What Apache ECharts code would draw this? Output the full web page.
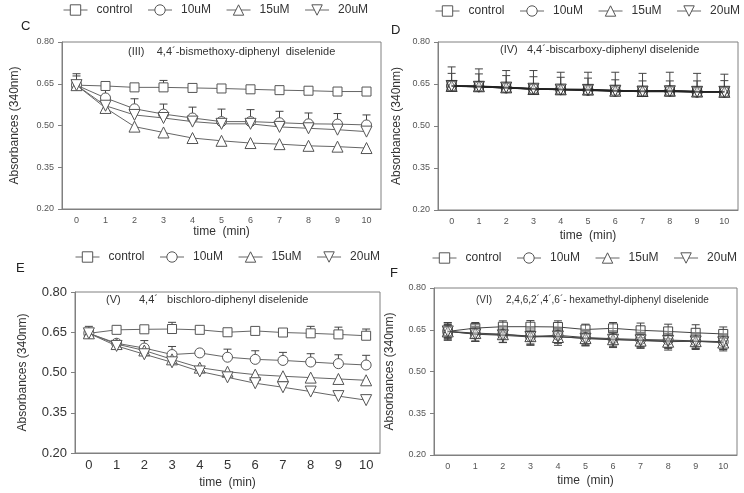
<!DOCTYPE html>
<html><head><meta charset="utf-8">
<script src="https://cdn.jsdelivr.net/npm/echarts@6/dist/echarts.min.js"></script>
<style>html,body{margin:0;padding:0;background:#fff}#chart{width:744px;height:493px}</style>
</head><body><div id="chart"></div>
<script>
const timeLabels = ['0','1','2','3','4','5','6','7','8','9','10'];
const yTickValues = [0.20, 0.35, 0.50, 0.65, 0.80];
const seriesNames = ['control', '10uM', '15uM', '20uM'];
const panelLetters = ['C', 'D', 'E', 'F'];
const panelTitles = [
  '(III)    4,4´-bismethoxy-diphenyl  diselenide',
  '(IV)   4,4´-biscarboxy-diphenyl diselenide',
  '(V)      4,4´   bischloro-diphenyl diselenide',
  '(VI)     2,4,6,2´,4´,6´- hexamethyl-diphenyl diselenide'
];
const yAxisTitle = 'Absorbances (340nm)';
const xAxisTitle = 'time  (min)';

// Panel C
const cControl = [0.645,0.642,0.637,0.637,0.635,0.633,0.630,0.627,0.625,0.622,0.622];
const c10uM    = [0.645,0.599,0.560,0.541,0.527,0.514,0.514,0.510,0.506,0.505,0.502];
const c15uM    = [0.645,0.563,0.496,0.475,0.455,0.445,0.437,0.433,0.427,0.424,0.419];
const c20uM    = [0.645,0.571,0.538,0.527,0.514,0.506,0.506,0.495,0.490,0.485,0.478];
const cControlErr = [0.033,0.006,0.004,0.025,0.004,0.004,0.004,0.004,0.004,0.004,0.004];
const c10uMErr    = [0.041,0.039,0.036,0.036,0.039,0.045,0.043,0.041,0.039,0.038,0.036];

// Panel D
const dControl = [0.643,0.641,0.637,0.632,0.630,0.629,0.627,0.624,0.624,0.622,0.622];
const d10uM    = [0.643,0.641,0.636,0.633,0.630,0.628,0.624,0.624,0.625,0.621,0.621];
const d15uM    = [0.643,0.642,0.638,0.632,0.631,0.630,0.626,0.625,0.626,0.623,0.622];
const d20uM    = [0.643,0.640,0.637,0.633,0.630,0.629,0.626,0.623,0.624,0.622,0.622];
const d10uMErr = [0.045,0.045,0.044,0.043,0.044,0.043,0.041,0.037,0.036,0.040,0.041];
const d15uMErr = [0.068,0.062,0.060,0.066,0.061,0.062,0.066,0.063,0.066,0.065,0.063];

// Panel E
const eControl = [0.646,0.659,0.661,0.662,0.659,0.650,0.655,0.649,0.646,0.642,0.637];
const e10uM    = [0.646,0.609,0.591,0.567,0.573,0.557,0.549,0.545,0.539,0.533,0.528];
const e15uM    = [0.646,0.606,0.582,0.549,0.518,0.503,0.492,0.486,0.481,0.476,0.471];
const e20uM    = [0.646,0.599,0.568,0.538,0.504,0.482,0.460,0.445,0.429,0.412,0.397];
const eControlErr = [0.026,0.003,0.003,0.025,0.003,0.003,0.003,0.003,0.026,0.027,0.025];
const e10uMErr    = [0.003,0.003,0.028,0.030,0.003,0.030,0.032,0.030,0.031,0.033,0.036];

// Panel F
const fControl = [0.644,0.656,0.661,0.661,0.660,0.651,0.655,0.648,0.644,0.639,0.635];
const f10uM    = [0.644,0.635,0.633,0.626,0.630,0.622,0.618,0.615,0.613,0.610,0.607];
const f15uM    = [0.644,0.638,0.634,0.627,0.624,0.620,0.616,0.611,0.607,0.609,0.604];
const f20uM    = [0.644,0.634,0.630,0.624,0.626,0.618,0.614,0.612,0.610,0.608,0.605];
const fControlErr = [0.032,0.020,0.021,0.022,0.022,0.019,0.021,0.026,0.026,0.029,0.025];
const f10uMErr    = [0.025,0.027,0.028,0.030,0.028,0.026,0.027,0.026,0.030,0.027,0.028];
const f15uMErr    = [0.030,0.030,0.030,0.033,0.030,0.028,0.030,0.028,0.030,0.030,0.030];
const f20uMErr    = [0.022,0.024,0.026,0.025,0.024,0.025,0.026,0.025,0.024,0.024,0.025];

const FONT = '"Liberation Sans", Arial, sans-serif';
const grids = [
  {left: 62, top: 42, width: 319, height: 167},
  {left: 438, top: 42, width: 300, height: 168},
  {left: 75, top: 292, width: 305, height: 161},
  {left: 434, top: 288, width: 303, height: 167}
];
const tickFont = [9, 9, 13, 9];
const yNameGap = [41, 35, 46, 38];
const xNameGap = [11, 20, 24, 20];
const legendPos = [{left: 63, top: 4}, {left: 435, top: 5}, {left: 75, top: 251}, {left: 432, top: 252}];
const letterPos = [[21, 20], [391, 24], [16, 262], [390, 267]];
const titlePos = [[128, 46], [500, 44], [106, 294], [476, 295]];
const titleFont = [11, 11, 11, 10];

const symbolDefs = [
  {symbol: 'rect', rotate: 0, size: 9},
  {symbol: 'circle', rotate: 0, size: 10},
  {symbol: 'triangle', rotate: 0, size: 11},
  {symbol: 'triangle', rotate: 180, size: 11}
];

const panels = [
  {values: [cControl, c10uM, c15uM, c20uM], errUp: [cControlErr, c10uMErr, null, null], errLow: [null, null, null, null], line: '#666', mark: '#555', fill: '#fff', lw: 1},
  {values: [dControl, d10uM, d15uM, d20uM], errUp: [null, d10uMErr, d15uMErr, null], errLow: [null, null, null, null], line: '#222', mark: '#333', fill: 'rgba(255,255,255,0.3)', lw: 1.5},
  {values: [eControl, e10uM, e15uM, e20uM], errUp: [eControlErr, e10uMErr, null, null], errLow: [null, null, null, null], line: '#666', mark: '#555', fill: '#fff', lw: 1},
  {values: [fControl, f10uM, f15uM, f20uM], errUp: [fControlErr, f10uMErr, f15uMErr, f20uMErr], errLow: [fControlErr, f10uMErr, f15uMErr, f20uMErr], line: '#444', mark: '#444', fill: 'rgba(255,255,255,0.3)', lw: 1}
];

function errorRender(params, api) {
  const x = api.value(0), y = api.value(1), hi = api.value(2), lo = api.value(3);
  const pHi = api.coord([x, hi]);
  const pLo = api.coord([x, lo]);
  const pMid = api.coord([x, y]);
  const w = 4;
  const st = {stroke: '#444', lineWidth: 1};
  const children = [
    {type: 'line', shape: {x1: pHi[0], y1: pHi[1], x2: pLo[0], y2: pLo[1]}, style: st},
    {type: 'line', shape: {x1: pHi[0] - w, y1: pHi[1], x2: pHi[0] + w, y2: pHi[1]}, style: st}
  ];
  if (pLo[1] - pMid[1] > 1) {
    children.push({type: 'line', shape: {x1: pLo[0] - w, y1: pLo[1], x2: pLo[0] + w, y2: pLo[1]}, style: st});
  }
  return {type: 'group', children};
}

const xAxis = [], yAxis = [], series = [], legend = [], graphic = [];
grids.forEach((g, i) => {
  xAxis.push({
    type: 'category', gridIndex: i, data: timeLabels, boundaryGap: true,
    name: xAxisTitle, nameLocation: 'middle', nameGap: xNameGap[i],
    nameTextStyle: {fontFamily: FONT, fontSize: 12, color: '#333'},
    axisLine: {lineStyle: {color: '#808080', width: 1}},
    axisTick: {alignWithLabel: true, length: 4, lineStyle: {color: '#808080'}},
    axisLabel: {fontFamily: FONT, fontSize: tickFont[i], color: i === 2 ? '#333' : '#555', margin: i === 2 ? 6 : 7}
  });
  yAxis.push({
    type: 'value', gridIndex: i, min: 0.2, max: 0.8,
    name: yAxisTitle, nameLocation: 'middle', nameGap: yNameGap[i], nameRotate: 90,
    nameTextStyle: {fontFamily: FONT, fontSize: 12, color: '#333'},
    axisLine: {show: true, lineStyle: {color: '#808080', width: 1}},
    axisTick: {show: true, length: 4, customValues: yTickValues, lineStyle: {color: '#808080'}},
    axisLabel: {customValues: yTickValues, formatter: v => v.toFixed(2), fontFamily: FONT, fontSize: tickFont[i], color: i === 2 ? '#333' : '#555', margin: 8},
    splitLine: {show: false}
  });
  const p = panels[i];
  seriesNames.forEach((name, k) => {
    const vals = p.values[k];
    const up = p.errUp[k], low = p.errLow[k];
    if (up) {
      series.push({
        type: 'custom', name: name + ' SD', xAxisIndex: i, yAxisIndex: i, z: 1,
        renderItem: errorRender, silent: true,
        data: vals.map((v, j) => [j, v, v + up[j], low ? v - low[j] : v])
      });
    }
  });
  seriesNames.forEach((name, k) => {
    const sd = symbolDefs[k];
    series.push({
      type: 'line', name, xAxisIndex: i, yAxisIndex: i, z: 3 + k,
      data: p.values[k],
      symbol: sd.symbol, symbolSize: sd.size, symbolRotate: sd.rotate,
      showAllSymbol: true,
      lineStyle: {color: p.line, width: p.lw},
      itemStyle: {color: p.fill, borderColor: p.mark, borderWidth: 1},
      emphasis: {disabled: true},
      animation: false
    });
  });
  legend.push({
    data: seriesNames, left: legendPos[i].left, top: legendPos[i].top, padding: 0,
    itemWidth: 24, itemHeight: 13, itemGap: 15,
    itemStyle: {color: '#fff', borderColor: '#555', borderWidth: 1},
    lineStyle: {color: '#666', width: 1},
    textStyle: {fontFamily: FONT, fontSize: 12, color: '#333', padding: [0, 0, 0, 4]},
    selectedMode: false
  });
  graphic.push({type: 'text', left: letterPos[i][0], top: letterPos[i][1], style: {text: panelLetters[i], font: '13px ' + FONT, fill: '#222'}});
  graphic.push({type: 'text', left: titlePos[i][0], top: titlePos[i][1], style: {text: panelTitles[i], font: titleFont[i] + 'px ' + FONT, fill: '#333'}});
});

const chart = echarts.init(document.getElementById('chart'), null, {renderer: 'canvas'});
chart.setOption({
  animation: false,
  backgroundColor: '#fff',
  grid: grids.map(g => Object.assign({show: true, borderColor: '#808080', borderWidth: 1, backgroundColor: 'transparent'}, g)),
  xAxis, yAxis, series, legend, graphic
});
</script></body></html>
